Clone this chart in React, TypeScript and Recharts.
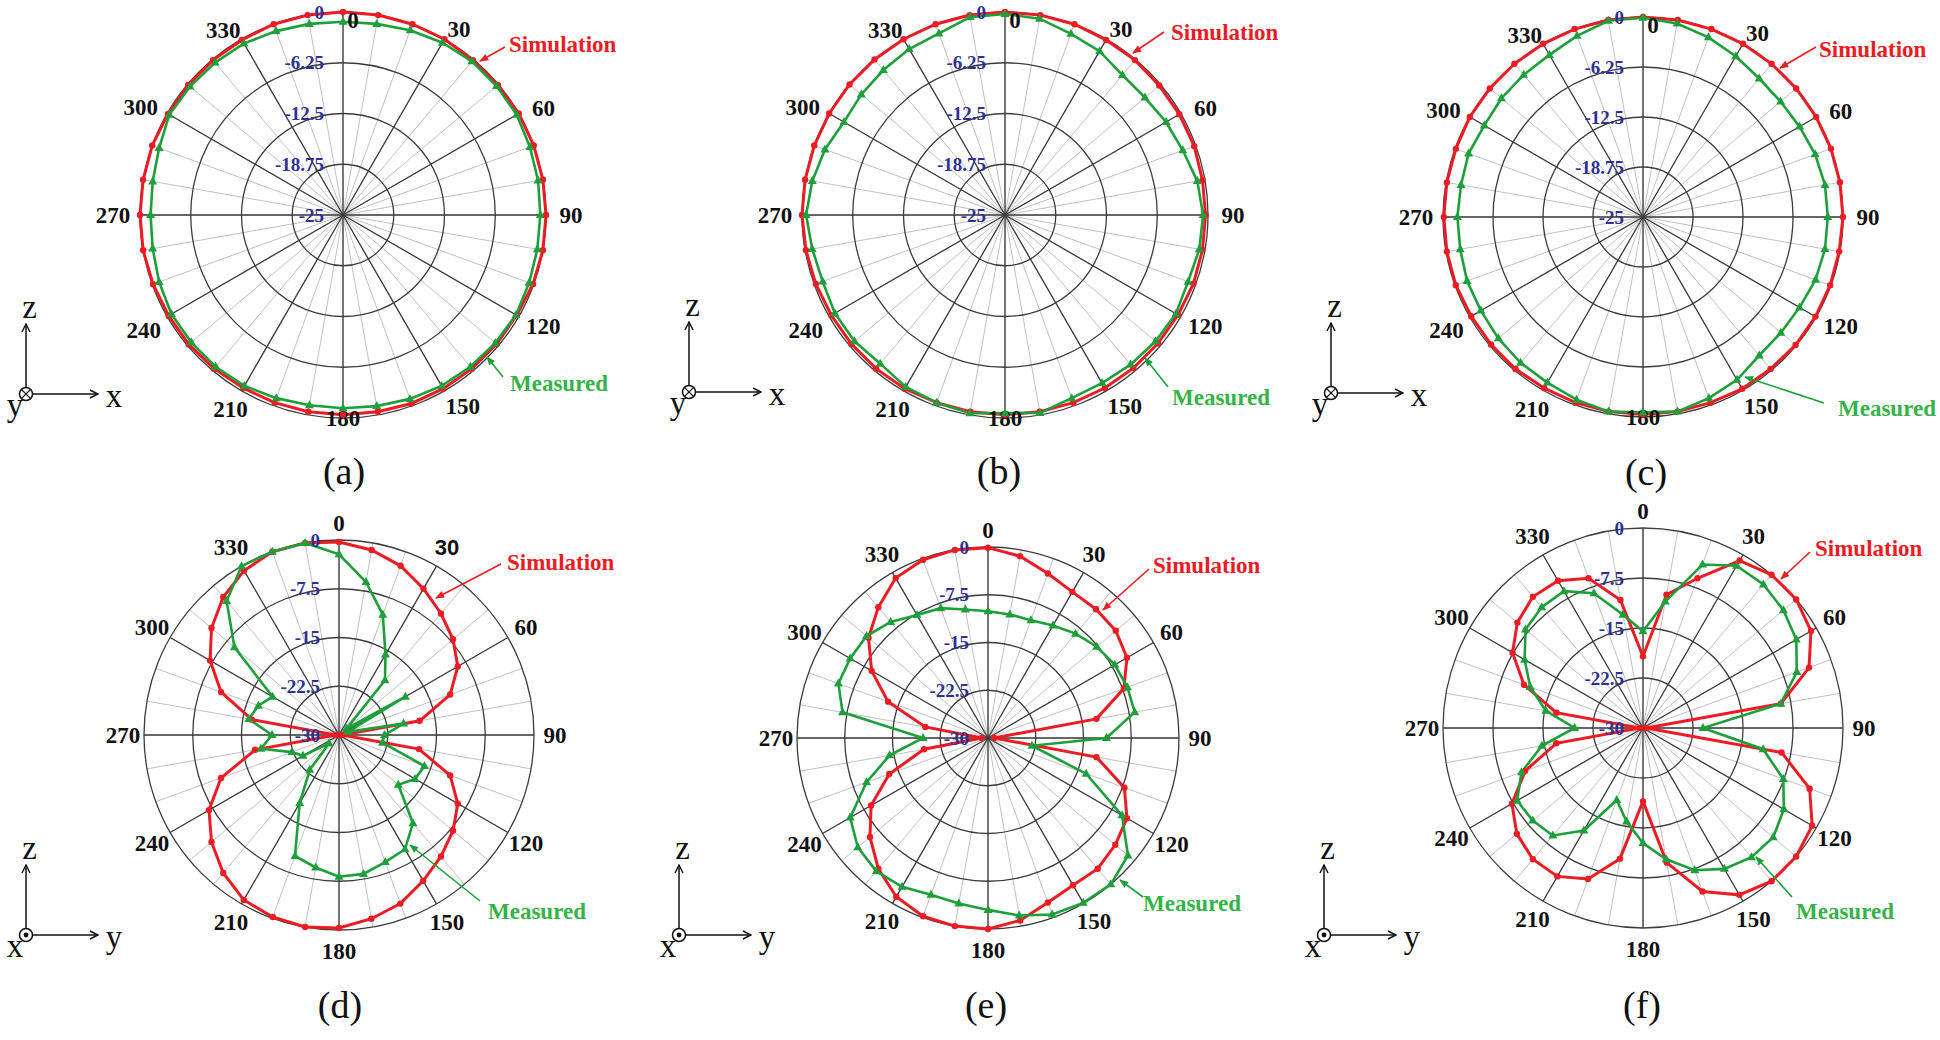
import { RadarChart, Radar, PolarGrid, PolarAngleAxis, PolarRadiusAxis } from "recharts";

const W = 1940;
const H = 1040;

const RED = "#ec1c24";
const GREEN = "#1e9f3c";
const GREEN_TEXT = "#36b24a";
const BLUE = "#2e3192";

const ANGLES = [0, 10, 20, 30, 40, 50, 60, 70, 80, 90, 100, 110, 120, 130, 140, 150, 160, 170,
  180, 190, 200, 210, 220, 230, 240, 250, 260, 270, 280, 290, 300, 310, 320, 330, 340, 350];
const MAJOR_ANGLES = [0, 30, 60, 90, 120, 150, 180, 210, 240, 270, 300, 330];

const TOP_TICKS = [-25, -18.75, -12.5, -6.25, 0];
const BOTTOM_TICKS = [-30, -22.5, -15, -7.5, 0];

// (a) xz plane
const A_SIM = [0, 0, 0, 0, -0.1, -0.1, 0, 0, 0, 0, 0, -0.1, -0.3, -0.3, -0.3, -0.3, -0.3, -0.4,
  -0.4, -0.4, -0.4, -0.4, -0.3, -0.2, -0.2, -0.1, 0, 0, 0, 0, -0.1, -0.1, -0.1, -0.1, 0, 0];
const A_MEAS = [-1.2, -1.1, -0.8, -0.5, -0.3, -0.3, -0.3, -0.5, -0.6, -0.7, -0.7, -0.6, -0.4, -0.5, -0.6, -0.7, -0.9, -1.1,
  -1.2, -1.2, -1.0, -0.7, -0.6, -0.6, -0.6, -0.9, -1.2, -1.3, -1.2, -0.9, -0.3, -0.4, -0.5, -0.6, -0.9, -1.1];

// (b)
const B_SIM = [0, 0, 0, -0.1, -0.1, -0.2, -0.2, -0.2, -0.3, -0.3, -0.3, -0.3, -0.4, -0.4, -0.4, -0.4, -0.4, -0.4,
  -0.4, -0.4, -0.4, -0.3, -0.3, -0.3, -0.3, -0.2, -0.1, 0, 0, 0, 0, 0, 0, 0, 0, 0];
const B_MEAS = [-0.25, -0.45, -1.25, -1.7, -2.5, -2.5, -2.1, -1.7, -0.95, -0.6, -0.7, -1.0, -0.7, -0.8, -0.95, -1.1, -1.0, -0.25,
  -0.6, -0.2, -0.4, -0.55, -1.1, -0.8, -0.8, -1.1, -0.9, -0.5, -0.9, -1.4, -2.1, -1.9, -1.7, -1.4, -1.2, -0.25];

// (c)
const C_SIM = [0, 0, 0, 0, 0, 0, 0, 0, 0, 0, -0.1, -0.1, -0.1, -0.1, -0.2, -0.2, -0.3, -0.3,
  -0.3, -0.3, -0.3, -0.3, -0.2, -0.2, -0.2, -0.1, -0.1, -0.1, -0.1, -0.1, 0, 0, 0, 0, 0, 0];
const C_MEAS = [-0.1, -0.45, -1.1, -1.8, -2.4, -2.55, -2.4, -2.1, -1.9, -1.9, -1.9, -2.05, -2.4, -2.5, -2.4, -1.5, -0.9, -0.3,
  -0.6, -0.3, -0.7, -1.1, -1.2, -1.4, -1.6, -1.6, -1.8, -1.8, -1.9, -1.8, -2.1, -1.9, -1.8, -1.6, -0.9, -0.1];

// (d) yz plane
const D_SIM = [-0.3, -1.1, -2.3, -4.0, -5.6, -7.1, -8.9, -11.8, -17.4, -29.5, -17.5, -11.8, -8.9, -7.1, -5.6, -4.1, -2.4, -1.3,
  -0.3, 0, -0.2, -0.7, -2.3, -4.4, -6.9, -10.7, -16.9, -29.5, -16.4, -10.7, -7.1, -4.4, -2.3, -0.8, 0, 0];
const D_MEAS = [-2.2, -6.1, -10.3, -15.7, -19.0, -28.5, -18.2, -28.5, -19.9, -23.0, -23.2, -16.0, -16.5, -18.1, -12.3, -9.7, -9.2, -8.3,
  -8.2, -9.3, -10.2, -17.9, -23.0, -28.0, -23.6, -22.3, -17.8, -19.7, -15.9, -16.8, -18.2, -9.0, -3.1, 0, 0, 0];

// (e)
const E_SIM = [-0.1, -1.0, -2.5, -3.5, -3.6, -3.8, -4.8, -7.3, -12.7, -29, -12.7, -7.2, -4.8, -3.9, -3.2, -3.3, -2.5, -0.9,
  0, 0, -0.2, -1.2, -3.2, -5.8, -8.8, -13.5, -19.8, -29, -20.0, -13.3, -8.9, -5.5, -3.2, -1.0, -0.2, 0];
const E_MEAS = [-10.1, -10.3, -10.3, -9.6, -8.6, -7.7, -7.0, -6.7, -6.6, -11.4, -23.0, -13.6, -5.7, -1.3, 0, -0.1, -0.5, -1.7,
  -3.0, -3.6, -3.8, -3.0, -2.7, -3.3, -5.0, -9.7, -14.3, -19.8, -6.8, -5.0, -5.0, -5.1, -6.2, -7.7, -8.3, -9.5];

// (f)
const F_SIM = [-19.25, -9.7, -6.1, -1.0, 0, 0, -0.9, -3.5, -9.0, -29.5, -8.9, -3.4, -0.7, 0, 0, -1.1, -3.9, -9.5,
  -19.0, -10.1, -5.9, -4.3, -4.3, -5.3, -7.3, -11.2, -16.8, -29.5, -16.8, -11.0, -7.4, -5.4, -4.3, -4.5, -6.1, -10.5];
const F_MEAS = [-15.5, -10.75, -3.9, -1.9, -1.9, -2.5, -3.45, -5.45, -9.0, -21.0, -11.7, -7.6, -5.6, -4.5, -4.7, -5.6, -7.3, -10.0,
  -12.75, -15.75, -18.5, -12.25, -8.95, -8.4, -8.2, -10.6, -14.6, -19.75, -15.2, -12.0, -9.5, -7.0, -6.35, -6.3, -8.5, -12.75];

const PANELS = [
  { key: "a", cx: 343, cy: 215, r: 203, top: true, ticks: TOP_TICKS, sim: A_SIM, meas: A_MEAS },
  { key: "b", cx: 1005, cy: 215, r: 203, top: true, ticks: TOP_TICKS, sim: B_SIM, meas: B_MEAS },
  { key: "c", cx: 1643, cy: 217, r: 200, top: true, ticks: TOP_TICKS, sim: C_SIM, meas: C_MEAS },
  { key: "d", cx: 339, cy: 735, r: 195, top: false, ticks: BOTTOM_TICKS, sim: D_SIM, meas: D_MEAS },
  { key: "e", cx: 988, cy: 738, r: 191, top: false, ticks: BOTTOM_TICKS, sim: E_SIM, meas: E_MEAS },
  { key: "f", cx: 1643, cy: 728, r: 200, top: false, ticks: BOTTOM_TICKS, sim: F_SIM, meas: F_MEAS },
];

// label distance beyond the outer ring and small angle nudge, top row
const TOP_NUDGE: Record<number, [number, number]> = {
  30: [16, 2], 60: [24, 2], 90: [25, 0], 120: [26, -1], 150: [23, -2],
  210: [22, 0], 240: [27, 0], 270: [27, 0], 300: [26, -2], 330: [17, -3],
};

const NOTES = [
  { sim: [509, 52, 505, 47, 480, 61], meas: [510, 391, 503, 377, 487, 357] },
  { sim: [1171, 40, 1164, 32, 1133, 53], meas: [1172, 405, 1168, 387, 1145, 358] },
  { sim: [1819, 57, 1816, 47, 1780, 68], meas: [1838, 416, 1824, 403, 1745, 377] },
  { sim: [507, 570, 501, 564, 436, 598], meas: [488, 919, 480, 901, 410, 845] },
  { sim: [1153, 573, 1149, 569, 1103, 610], meas: [1143, 911, 1143, 897, 1120, 880] },
  { sim: [1815, 556, 1810, 552, 1781, 579], meas: [1796, 919, 1792, 897, 1756, 857] },
];

const ICONS = [
  { x: 26, y: 394, out: false },
  { x: 689, y: 392, out: false },
  { x: 1331, y: 393, out: false },
  { x: 26, y: 935, out: true },
  { x: 679, y: 935, out: true },
  { x: 1324, y: 935, out: true },
];

const CAPTIONS = [
  { t: "(a)", x: 344, y: 484 },
  { t: "(b)", x: 999, y: 484 },
  { t: "(c)", x: 1646, y: 485 },
  { t: "(d)", x: 340, y: 1018 },
  { t: "(e)", x: 986, y: 1018 },
  { t: "(f)", x: 1642, y: 1018 },
];

function makeAngleTick(p) {
  return function AngleTick(props) {
    const v = Number(props.payload?.value);
    if (v % 30 !== 0) return <g />;
    const cx = typeof props.cx === "number" ? props.cx : p.cx;
    const cy = typeof props.cy === "number" ? props.cy : p.cy;
    let x;
    let y;
    if (p.top && v === 0) {
      x = cx + 10;
      y = cy - p.r + 8;
    } else if (p.top && v === 180) {
      x = cx;
      y = cy + p.r;
    } else {
      const [d, t] = p.top ? TOP_NUDGE[v] : [v === 0 ? 17 : 21, 0];
      const rad = ((v + t) * Math.PI) / 180;
      x = cx + (p.r + d) * Math.sin(rad);
      y = cy - (p.r + d) * Math.cos(rad);
    }
    const sans = p.key === "d" && v === 30;
    return (
      <text x={x} y={y} textAnchor="middle" dominantBaseline="central" fill="#111"
        fontFamily={sans ? "Liberation Sans" : "Liberation Serif"} fontWeight="bold" fontSize={sans ? 22 : 23}>
        {v}
      </text>
    );
  };
}

function RadiusTick(props) {
  const { x, y, payload } = props;
  return (
    <text x={x - 19} y={y} textAnchor="end" dominantBaseline="central" fill={BLUE}
      fontFamily="Liberation Serif" fontWeight="bold" fontSize={19}>
      {String(payload.value)}
    </text>
  );
}

function RedDot(props) {
  return <circle key={`r-${props.index}`} cx={props.cx} cy={props.cy} r={3.2} fill={RED} />;
}

function GreenTri(props) {
  const { cx, cy } = props;
  return <path key={`g-${props.index}`} d={`M${cx},${cy - 5} L${cx + 4.5},${cy + 3} L${cx - 4.5},${cy + 3} Z`} fill={GREEN} />;
}

function PolarPanel({ p }) {
  const data = ANGLES.map((a, i) => ({ angle: a, sim: p.sim[i], meas: p.meas[i] }));
  const majors = MAJOR_ANGLES.map((a) => 90 - a);
  return (
    <div style={{ position: "absolute", left: 0, top: 0 }}>
      <RadarChart width={W} height={H} data={data} cx={p.cx} cy={p.cy} outerRadius={p.r}
        startAngle={90} endAngle={-270} margin={{ top: 0, right: 0, bottom: 0, left: 0 }}>
        <PolarGrid gridType="circle" polarRadius={[]} stroke="#c2c2c2" strokeWidth={1} />
        <PolarGrid gridType="circle" polarAngles={majors} stroke="#3c3c3c" strokeWidth={1.3} />
        <PolarAngleAxis dataKey="angle" tick={makeAngleTick(p)} tickLine={false} axisLine={false} />
        <Radar dataKey="sim" stroke={RED} strokeWidth={3} fill="none" fillOpacity={0}
          dot={RedDot} isAnimationActive={false} />
        <Radar dataKey="meas" stroke={GREEN} strokeWidth={2.6} fill="none" fillOpacity={0}
          dot={GreenTri} isAnimationActive={false} />
        <PolarRadiusAxis angle={90} orientation="left" type="number" domain={[p.ticks[0], 0]}
          ticks={p.ticks} tickCount={5} tick={RadiusTick} axisLine={false} />
      </RadarChart>
    </div>
  );
}

function Icon({ ic }) {
  const { x, y, out } = ic;
  return (
    <g>
      <line x1={x} y1={y - 6.5} x2={x} y2={y - 70} stroke="#111" strokeWidth={1.5} markerEnd="url(#ah-open)" />
      <line x1={x + 6.5} y1={y} x2={x + 72} y2={y} stroke="#111" strokeWidth={1.5} markerEnd="url(#ah-open)" />
      <circle cx={x} cy={y} r={6.5} fill="#fff" stroke="#111" strokeWidth={1.5} />
      {out ? (
        <circle cx={x} cy={y} r={2.4} fill="#111" />
      ) : (
        <path d={`M${x - 4.4},${y - 4.4} L${x + 4.4},${y + 4.4} M${x + 4.4},${y - 4.4} L${x - 4.4},${y + 4.4}`}
          stroke="#111" strokeWidth={1.3} />
      )}
      <text x={x + 3.5} y={y - 76} textAnchor="middle" fontFamily="Liberation Serif" fontSize={33} fill="#111">z</text>
      <text x={x + 88} y={y + 13} textAnchor="middle" fontFamily="Liberation Serif" fontSize={33} fill="#111">{out ? "y" : "x"}</text>
      <text x={x - 11} y={y + 22} textAnchor="middle" fontFamily="Liberation Serif" fontSize={33} fill="#111">{out ? "x" : "y"}</text>
    </g>
  );
}

function Overlay() {
  return (
    <svg width={W} height={H} style={{ position: "absolute", left: 0, top: 0 }}>
      <defs>
        <marker id="ah-red" viewBox="0 0 10 10" refX="9" refY="5" markerWidth="11" markerHeight="9"
          markerUnits="userSpaceOnUse" orient="auto">
          <path d="M0,1 L10,5 L0,9 Z" fill={RED} />
        </marker>
        <marker id="ah-green" viewBox="0 0 10 10" refX="9" refY="5" markerWidth="11" markerHeight="9"
          markerUnits="userSpaceOnUse" orient="auto">
          <path d="M0,1 L10,5 L0,9 Z" fill={GREEN} />
        </marker>
        <marker id="ah-open" viewBox="0 0 10 10" refX="9" refY="5" markerWidth="10" markerHeight="10"
          markerUnits="userSpaceOnUse" orient="auto">
          <path d="M1,1 L9,5 L1,9" fill="none" stroke="#111" strokeWidth="1.4" />
        </marker>
      </defs>
      {NOTES.map((n, i) => (
        <g key={i}>
          <line x1={n.sim[2]} y1={n.sim[3]} x2={n.sim[4]} y2={n.sim[5]} stroke={RED} strokeWidth={1.6} markerEnd="url(#ah-red)" />
          <text x={n.sim[0]} y={n.sim[1]} fill={RED} fontFamily="Liberation Serif" fontWeight="bold" fontSize={23}>Simulation</text>
          <line x1={n.meas[2]} y1={n.meas[3]} x2={n.meas[4]} y2={n.meas[5]} stroke={GREEN} strokeWidth={1.6} markerEnd="url(#ah-green)" />
          <text x={n.meas[0]} y={n.meas[1]} fill={GREEN_TEXT} fontFamily="Liberation Serif" fontWeight="bold" fontSize={23}>Measured</text>
        </g>
      ))}
      {ICONS.map((ic, i) => <Icon key={i} ic={ic} />)}
      {CAPTIONS.map((c) => (
        <text key={c.t} x={c.x} y={c.y} textAnchor="middle" fontFamily="Liberation Serif" fontSize={38} fill="#111">{c.t}</text>
      ))}
    </svg>
  );
}

export default function App() {
  return (
    <div style={{ position: "absolute", left: 0, top: 0, width: W, height: H, background: "#fff", overflow: "hidden" }}>
      {PANELS.map((p) => <PolarPanel key={p.key} p={p} />)}
      <Overlay />
    </div>
  );
}
